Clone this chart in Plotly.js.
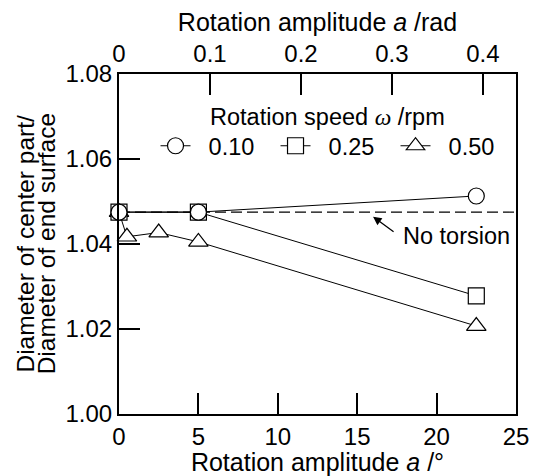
<!DOCTYPE html>
<html>
<head>
<meta charset="utf-8">
<script src="https://cdn.plot.ly/plotly-3.0.1.min.js"></script>
<style>html,body{margin:0;padding:0;background:#fff;}#chart{width:536px;height:476px;}</style>
</head>
<body>
<div id="chart"></div>
<script>
// Data
const amp_010 = [0, 5, 22.5];
const ratio_010 = [1.0475, 1.0475, 1.0513];
const amp_025 = [0, 5, 22.5];
const ratio_025 = [1.0475, 1.0475, 1.0278];
const amp_050 = [0, 0.5, 2.5, 5, 22.5];
const ratio_050 = [1.0475, 1.0417, 1.0427, 1.0405, 1.0207];
const seriesNames = ['0.10', '0.25', '0.50'];
const noTorsion = 1.0475;
const degRange = [0, 25];
const yRange = [1.00, 1.08];
const yTicks = [1.00, 1.02, 1.04, 1.06, 1.08];
const degTicks = [0, 5, 10, 15, 20, 25];
const radTicks = [0, 0.1, 0.2, 0.3, 0.4];
const radRange = degRange.map(d => d * Math.PI / 180);
const arrowPoint = {x: 16.0, y: 1.0464};
const labelPoint = {x: 17.75, y: 1.0419};

const F = 'Liberation Sans, Arial, sans-serif';
const FT = 24;   // tick labels
const FA = 25;   // axis titles
const FL = 23.5; // legend

const NB = '\u00a0\u00a0';

function series(x, y, sym, size, name, rank) {
  return {
    x: x, y: y, name: NB + name, type: 'scatter', mode: 'lines+markers',
    line: {color: '#000', width: 1},
    marker: {symbol: sym, size: size, color: '#fff', line: {color: '#000', width: 1.2}},
    cliponaxis: false, legendrank: rank
  };
}

const traces = [
  series(amp_050, ratio_050, 'triangle-up', 17, seriesNames[2], 3),
  series(amp_025, ratio_025, 'square', 16, seriesNames[1], 2),
  series(amp_010, ratio_010, 'circle', 16, seriesNames[0], 1),
  {x: radRange, y: [null, null], xaxis: 'x2', yaxis: 'y', mode: 'markers', showlegend: false, hoverinfo: 'skip'}
];

const axisCommon = {
  showline: true, linecolor: '#000', linewidth: 2,
  ticks: 'inside', ticklen: 21, tickwidth: 2, tickcolor: '#000',
  showgrid: false, zeroline: false,
  tickfont: {family: F, size: FT, color: '#000'}
};

const layout = {
  width: 536, height: 476,
  margin: {l: 119, r: 20, t: 74, b: 62},
  paper_bgcolor: '#fff', plot_bgcolor: '#fff',
  font: {family: F, size: FT, color: '#000'},
  showlegend: true,
  legend: {
    orientation: 'h', x: 0.092, xanchor: 'left', y: 0.853, yanchor: 'top',
    bgcolor: 'rgba(0,0,0,0)', font: {family: F, size: FL, color: '#000'},
    itemwidth: 30, entrywidth: 75, entrywidthmode: 'pixels'
  },
  xaxis: Object.assign({}, axisCommon, {
    range: degRange, tickvals: degTicks, ticktext: degTicks.map(String),
    title: {text: 'Rotation amplitude <i>a</i> /°', font: {family: F, size: FA}, standoff: 2},
    automargin: false
  }),
  xaxis2: Object.assign({}, axisCommon, {
    range: radRange, tickvals: radTicks, ticktext: radTicks.map(String),
    overlaying: 'x', side: 'top', anchor: 'y',
    title: {text: 'Rotation amplitude <i>a</i> /rad', font: {family: F, size: FA}, standoff: 2},
    automargin: false
  }),
  yaxis: Object.assign({}, axisCommon, {
    range: yRange, tickvals: yTicks, ticktext: yTicks.map(v => v.toFixed(2)),
    mirror: true, automargin: false
  }),
  shapes: [{
    type: 'line', xref: 'x', yref: 'y', x0: degRange[0], x1: degRange[1], y0: noTorsion, y1: noTorsion,
    line: {color: '#000', width: 1.2, dash: '11px,5px'}, layer: 'below'
  }],
  annotations: [
    {xref: 'paper', yref: 'paper', x: -0.238, y: 0.5, textangle: -90, showarrow: false,
     text: 'Diameter of center part/', font: {family: F, size: 24.5}, xanchor: 'center', yanchor: 'middle'},
    {xref: 'paper', yref: 'paper', x: -0.183, y: 0.5, textangle: -90, showarrow: false,
     text: 'Diameter of end surface', font: {family: F, size: 24.5}, xanchor: 'center', yanchor: 'middle'},
    {xref: 'paper', yref: 'paper', x: 0.524, y: 0.874, showarrow: false,
     text: 'Rotation speed <span style="font-family:Liberation Serif"><i>ω</i></span> /rpm',
     font: {family: F, size: FL}, xanchor: 'center', yanchor: 'middle'},
    {xref: 'x', yref: 'y', x: arrowPoint.x, y: arrowPoint.y, ax: 22, ay: 16, text: ' ',
     font: {size: 1}, showarrow: true, arrowhead: 2, arrowsize: 1.3, arrowwidth: 1.3, arrowcolor: '#000'},
    {xref: 'x', yref: 'y', x: labelPoint.x, y: labelPoint.y, text: 'No torsion', showarrow: false,
     font: {family: F, size: FL}, xanchor: 'left', yanchor: 'middle'}
  ]
};

Plotly.newPlot('chart', traces, layout, {staticPlot: true});
</script>
</body>
</html>
